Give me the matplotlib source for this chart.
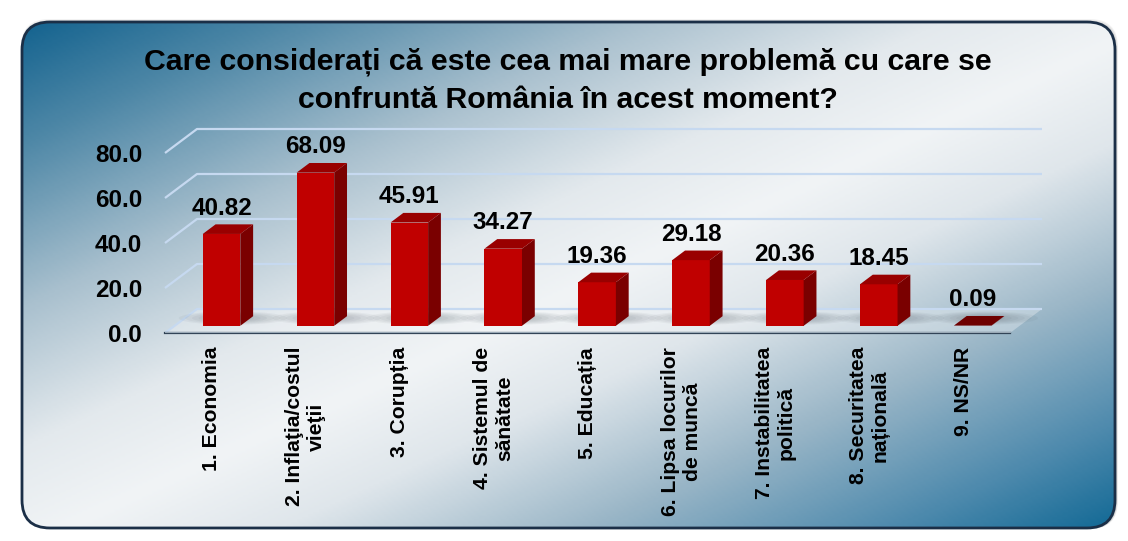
import numpy as np
import matplotlib
matplotlib.use("Agg")
import matplotlib.pyplot as plt
from matplotlib.patches import FancyBboxPatch, Polygon, Ellipse
from matplotlib.colors import LinearSegmentedColormap

plt.rcParams['font.family'] = ['Liberation Sans', 'DejaVu Sans']
plt.rcParams['font.weight'] = 'bold'

# ---------------- data ----------------
categories = ["1. Economia", "2. Inflaţia/costul\nvieţii", "3. Corupția",
              "4. Sistemul de\nsănătate", "5. Educația", "6. Lipsa locurilor\nde muncă",
              "7. Instabilitatea\npolitică", "8. Securitatea\nnațională", "9. NS/NR"]
values = [40.82, 68.09, 45.91, 34.27, 19.36, 29.18, 20.36, 18.45, 0.09]
value_labels = ["40.82", "68.09", "45.91", "34.27", "19.36", "29.18", "20.36", "18.45", "0.09"]
yticks = [0, 20, 40, 60, 80]
title_lines = ["Care considerați că este cea mai mare problemă cu care se",
               "confruntă România în acest moment?"]

W, H = 1128, 541
fig = plt.figure(figsize=(W / 100, H / 100), dpi=100)
fig.patch.set_facecolor("white")

# ---------------- background panel ----------------
bg = fig.add_axes([0, 0, 1, 1])
bg.set_xlim(0, W)
bg.set_ylim(H, 0)
bg.axis("off")

px0, py0, pw, ph = 22, 22, 1093, 506
# soft shadow
for k, a in enumerate([0.05, 0.05, 0.05, 0.05]):
    s = FancyBboxPatch((px0 - 1 + k * 0.5, py0 - 3 + k), pw + 4 - k, ph + 4 - k,
                       boxstyle="round,pad=0,rounding_size=28",
                       fc="black", ec="none", alpha=a, zorder=0)
    bg.add_patch(s)

panel = FancyBboxPatch((px0, py0), pw, ph, boxstyle="round,pad=0,rounding_size=28",
                       fc="none", ec="#1b2f47", lw=2.0, zorder=3)
bg.add_patch(panel)

stops = [(0.0, "#14638f"), (0.12, "#4f88a7"), (0.28, "#a9c0ce"), (0.42, "#e3e9ed"),
         (0.52, "#f1f4f6"), (0.62, "#dfe6eb"), (0.76, "#9ab6c7"), (0.9, "#4e8aad"),
         (1.0, "#146a96")]
cmap = LinearSegmentedColormap.from_list("panel", stops)
gx, gy = np.meshgrid(np.linspace(0, 1, 400), np.linspace(0, 1, 200))
t = (gx + gy) / 2
im = bg.imshow(t, cmap=cmap, vmin=0, vmax=1, extent=(px0, px0 + pw, py0 + ph, py0),
               aspect="auto", zorder=1, interpolation="bilinear")
clip = FancyBboxPatch((px0, py0), pw, ph, boxstyle="round,pad=0,rounding_size=28",
                      fc="none", ec="none", transform=bg.transData)
bg.add_patch(clip)
im.set_clip_path(clip)

# title
bg.text(568, 62, title_lines[0], ha="center", va="center", fontsize=21.8,
        fontweight="bold", color="black", zorder=5)
bg.text(568, 100, title_lines[1], ha="center", va="center", fontsize=21.8,
        fontweight="bold", color="black", zorder=5)

# ---------------- chart axes ----------------
left, right, bottom, top = 165, 1010, 333, 153
ax = fig.add_axes([left / W, (H - bottom) / H, (right - left) / W, (bottom - top) / H])
ax.set_facecolor("none")
n = len(values)
ax.set_xlim(-0.5, n - 0.5)
ax.set_ylim(0, 80)
for sp in ax.spines.values():
    sp.set_visible(False)

DX = 32 / ((right - left) / n)   # depth offset in category units
DY = 24 / ((bottom - top) / 80)  # depth offset in value units

# floor
floor = Polygon([(-0.5, 0), (n - 0.5, 0), (n - 0.5 + DX, DY), (-0.5 + DX, DY)],
                closed=True, fc="#f4f6f8", ec="none", alpha=0.35, zorder=1, clip_on=False)
ax.add_patch(floor)

# gridlines (left wall + back wall)
for v in yticks:
    ax.plot([-0.5, -0.5 + DX, n - 0.5 + DX], [v, v + DY, v + DY], color="#c6d9f0",
            lw=1.6, zorder=2, clip_on=False, solid_capstyle="butt")

ax.plot([-0.5, n - 0.5], [0, 0], color="#2d3f52", lw=1.6, zorder=3, clip_on=False)
ax.plot([-0.5, n - 0.5], [0.6, 0.6], color="#9aa9b6", lw=0.8, zorder=3, clip_on=False)

f = 0.3      # depth position of the bar front
bd = 0.4     # bar depth fraction
hw = 0.2     # half bar width
bdx, bdy = bd * DX, bd * DY
for i, v in enumerate(values):
    cx = i + f * DX
    fy = f * DY
    # shadow
    for k in range(6):
        e = Ellipse((cx + 0.12, fy + bdy * 0.8), 1.15 - k * 0.14, 6.0 - k * 0.7,
                    fc="#3c4650", ec="none", alpha=0.05, zorder=2.5, clip_on=False)
        ax.add_patch(e)
    front = Polygon([(cx - hw, fy), (cx + hw, fy), (cx + hw, fy + v), (cx - hw, fy + v)],
                    closed=True, fc="#c00000", ec="none", zorder=4, clip_on=False)
    side = Polygon([(cx + hw, fy), (cx + hw + bdx, fy + bdy), (cx + hw + bdx, fy + v + bdy),
                    (cx + hw, fy + v)], closed=True, fc="#7a0000", ec="none", zorder=4,
                   clip_on=False)
    topf = Polygon([(cx - hw, fy + v), (cx + hw, fy + v), (cx + hw + bdx, fy + v + bdy),
                    (cx - hw + bdx, fy + v + bdy)], closed=True, fc="#990000" if v > 1 else "#6e0000",
                   ec="none", zorder=4, clip_on=False)
    for p in (front, side, topf):
        ax.add_patch(p)
    ax.annotate(value_labels[i], (cx, fy + v + bdy), xytext=(0, 7), textcoords="offset points",
                ha="center", va="baseline", fontsize=17.5, fontweight="bold", color="black",
                zorder=6, annotation_clip=False)

ax.set_yticks(yticks)
ax.set_yticklabels([f"{v:.1f}" for v in yticks], fontsize=17.5, fontweight="bold")
ax.set_xticks(range(n))
ax.set_xticklabels(categories, rotation=90, fontsize=15.2, fontweight="bold",
                   ha="center", va="top", multialignment="center")
ax.tick_params(axis="y", length=0, pad=16.5)
ax.tick_params(axis="x", length=0, pad=10)

fig.savefig("out.png", dpi=100, facecolor="white")
